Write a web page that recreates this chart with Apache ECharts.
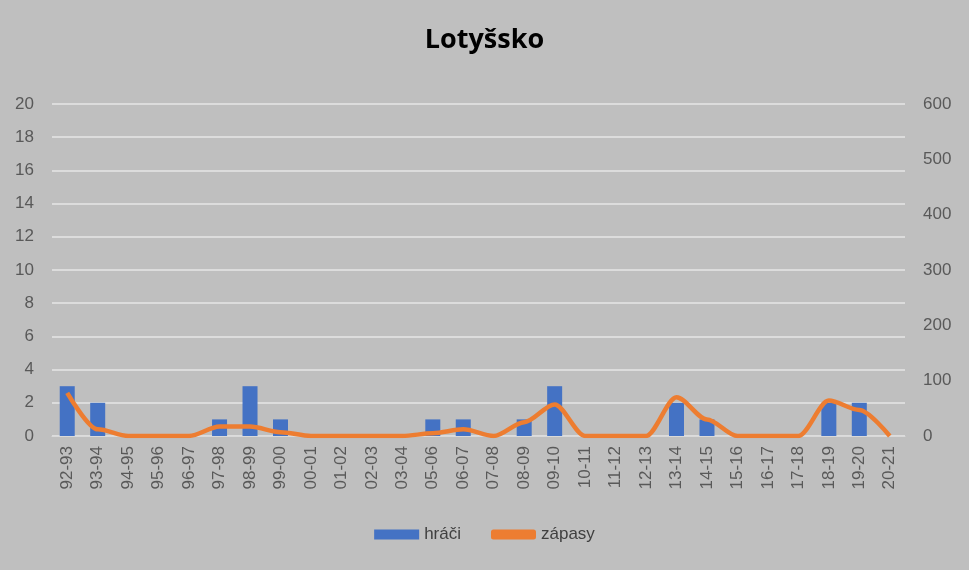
<!DOCTYPE html>
<html><head><meta charset="utf-8">
<script src="https://cdn.jsdelivr.net/npm/echarts@6/dist/echarts.min.js"></script>
<style>html,body{margin:0;background:#bfbfbf}</style>
</head><body>
<div id="chart" style="width:969px;height:570px;"></div>
<script>
var seasons = ['92-93','93-94','94-95','95-96','96-97','97-98','98-99','99-00','00-01','01-02','02-03','03-04','05-06','06-07','07-08','08-09','09-10','10-11','11-12','12-13','13-14','14-15','15-16','16-17','17-18','18-19','19-20','20-21'];
var hraci = [3,2,0,0,0,1,3,1,0,0,0,0,1,1,0,1,3,0,0,0,2,1,0,0,0,2,2,0];
var zapasy = [78,12,0,0,0,17,17,7,0,0,0,0,5,12,0,25,57,0,0,0,70,30,0,0,0,64,47,0];

var myChart = echarts.init(document.getElementById('chart'));
var axisText = {color: '#595959', fontSize: 17, fontFamily: 'Liberation Sans'};
var option = {
  backgroundColor: '#bfbfbf',
  title: {
    text: 'Lotyšsko', left: 'center', top: 22,
    textStyle: {color: '#000', fontSize: 27, fontWeight: 'bold', fontFamily: 'Open Sans'}
  },
  legend: {
    bottom: 22, left: 'center', itemGap: 30, itemWidth: 45, itemHeight: 10,
    textStyle: {color: '#404040', fontSize: 17, fontFamily: 'Liberation Sans'},
    data: [{name: 'hráči', icon: 'rect'}, {name: 'zápasy', icon: 'roundRect', itemStyle: {color: '#ed7d31'}}]
  },
  grid: {left: 52, right: 64, top: 104, bottom: 134},
  xAxis: {
    type: 'category', data: seasons, boundaryGap: true,
    axisLine: {lineStyle: {color: '#d9d9d9'}}, axisTick: {show: false},
    axisLabel: Object.assign({rotate: 90, interval: 0, margin: 10}, axisText)
  },
  yAxis: [
    {type: 'value', min: 0, max: 20, interval: 2, axisLabel: Object.assign({margin: 18}, axisText),
     splitLine: {lineStyle: {color: '#e6e6e6', width: 1.5}}},
    {type: 'value', min: 0, max: 600, interval: 100, axisLabel: Object.assign({margin: 18}, axisText),
     splitLine: {show: false}}
  ],
  series: [
    {name: 'hráči', type: 'bar', data: hraci, barWidth: 15, itemStyle: {color: '#4472c4'}},
    {name: 'zápasy', type: 'line', yAxisIndex: 1, data: zapasy, smooth: 0.3, smoothMonotone: 'x', showSymbol: false,
     lineStyle: {color: '#ed7d31', width: 4.5}, itemStyle: {color: '#ed7d31'}}
  ]
};
myChart.setOption(option);
</script>
</body></html>
